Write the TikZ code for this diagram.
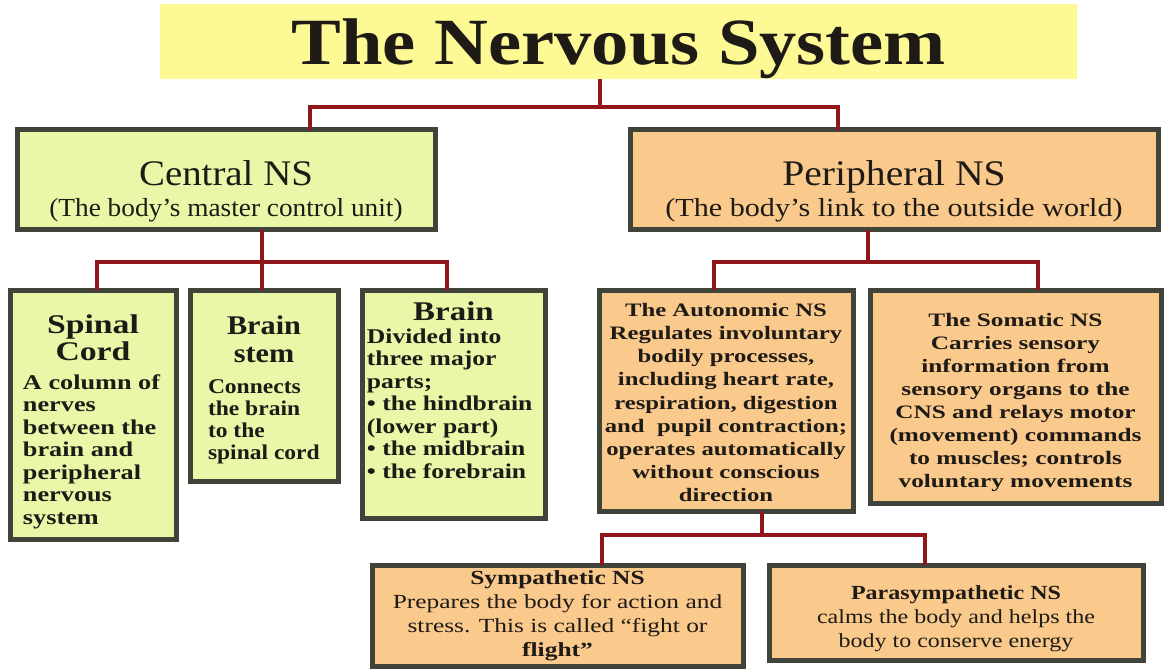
\documentclass[tikz,border=0pt]{standalone}
\usepackage{fontspec}
\setmainfont{Liberation Serif}
\usetikzlibrary{shadows}
\definecolor{gfill}{RGB}{232,247,168}
\definecolor{ofill}{RGB}{250,201,140}
\definecolor{bord}{RGB}{64,67,58}
\definecolor{linkc}{RGB}{145,22,26}
\definecolor{ttl}{RGB}{253,250,150}
\definecolor{ink}{RGB}{30,26,22}
\newcommand{\fs}[2]{\fontsize{#1}{#2}\selectfont}
\newcommand{\boxtext}[3]{\scalebox{#1}[1]{\begin{minipage}{#2}#3\end{minipage}}}
\begin{document}
\begin{tikzpicture}[x=1pt,y=-1pt,
  boxbase/.style={draw=bord, line width=5pt, inner sep=0pt, outer sep=0pt,
    anchor=north west, text=ink,
    drop shadow={shadow xshift=1.5pt,shadow yshift=-1.5pt,fill=bord!50!black,opacity=1}},
  gbox/.style={boxbase, fill=gfill},
  obox/.style={boxbase, fill=ofill},
  link/.style={draw=linkc, line width=4pt},
]
\useasboundingbox[fill=white] (0,0) rectangle (1165,671);

% title
\node[fill=ttl, anchor=north west, minimum width=917pt, minimum height=75pt, inner sep=0pt, text=ink, text depth=0pt] (title) at (160,4)
  {\scalebox{1.13}[1]{\fs{66}{70}\bfseries The Nervous System}};

% level 1
\node[gbox, minimum width=418pt, minimum height=100pt] (cns) at (17,130)
  {\begin{minipage}{410pt}\vspace*{22pt}\centering\fs{26}{31}\scalebox{1.08}[1]{\fs{36}{40}Central NS}\\\scalebox{1.05}[1]{(The body’s master control unit)}\par\end{minipage}};
\node[obox, minimum width=528pt, minimum height=100pt] (pns) at (630,130)
  {\begin{minipage}{515pt}\vspace*{22pt}\centering\fs{26}{31}\scalebox{1.1}[1]{\fs{36}{40}Peripheral NS}\\\scalebox{1.16}[1]{(The body’s link to the outside world)}\par\end{minipage}};

% CNS children
\node[gbox, minimum width=166pt, minimum height=249pt] (spinal) at (10,290)
  {\boxtext{1.25}{112pt}{\vspace*{14pt}\centering\fs{27}{27}\bfseries Spinal\\Cord\par\vspace{6.5pt}\raggedright\fs{21}{22.5}\bfseries A column of\\nerves\\between the\\brain and\\peripheral\\nervous\\system\par}};
\node[gbox, minimum width=148pt, minimum height=191pt] (stem) at (190,290)
  {\boxtext{1.12}{100pt}{\vspace*{8pt}\centering\fs{27}{28}\bfseries Brain\\stem\par\vspace{9pt}\raggedright\fs{21}{22}\bfseries Connects\\the brain\\to the\\spinal cord\par}};
\node[gbox, minimum width=183pt, minimum height=228pt] (brain) at (362,290)
  {\boxtext{1.22}{142pt}{\centering\fs{27}{28}\bfseries Brain\par\raggedright\fs{21}{22.5}\bfseries Divided into\\three major\\parts;\\\textbullet\ the hindbrain\\(lower part)\\\textbullet\ the midbrain\\\textbullet\ the forebrain\par\vspace{28pt}}};

% PNS children
\node[obox, minimum width=254pt, minimum height=221pt] (auto) at (599,290)
  {\boxtext{1.3}{190pt}{\vspace*{4pt}\centering\fs{19}{23.2}\bfseries The Autonomic NS\\Regulates involuntary\\bodily processes,\\including heart rate,\\respiration, digestion\\and\ \ pupil contraction;\\operates automatically\\without conscious\\direction\par}};
\node[obox, minimum width=291pt, minimum height=213pt] (soma) at (870,290)
  {\boxtext{1.33}{215pt}{\vspace*{12pt}\centering\fs{19}{22.9}\bfseries The Somatic NS\\Carries sensory\\information from\\sensory organs to the\\CNS and relays motor\\(movement) commands\\to muscles; controls\\voluntary movements\par}};

% ANS children
\node[obox, minimum width=371pt, minimum height=101pt] (symp) at (372,565)
  {\boxtext{1.27}{290pt}{\centering\fs{20}{24}\textbf{Sympathetic NS}\\Prepares the body for action and\\stress. This is called “fight or\\\textbf{flight”}\par}};
\node[obox, minimum width=374pt, minimum height=95pt] (para) at (769,565)
  {\boxtext{1.2}{300pt}{\vspace*{12pt}\centering\fs{20}{24}\textbf{Parasympathetic NS}\\calms the body and helps the\\body to conserve energy\par}};

% junction coordinates
\coordinate (j0) at (600,107);
\coordinate (jL) at (310,107);
\coordinate (jR) at (838,107);
\coordinate (c0) at (262,262);
\coordinate (c1) at (97,262);
\coordinate (c3) at (447,262);
\coordinate (p0) at (868,262);
\coordinate (p1) at (714,262);
\coordinate (p2) at (1038,262);
\coordinate (a0) at (762,535);
\coordinate (a1) at (602,535);
\coordinate (a2) at (925,535);

\draw[link] (j0 |- title.south) -- (j0);
\draw[link] (jL |- cns.north) -- (jL) -- (jR) -- (jR |- pns.north);
\draw[link] (c0 |- cns.south) -- (c0);
\draw[link] (c1 |- spinal.north) -- (c1) -- (c3) -- (c3 |- brain.north);
\draw[link] (c0) -- (c0 |- stem.north);
\draw[link] (p0 |- pns.south) -- (p0);
\draw[link] (p1 |- auto.north) -- (p1) -- (p2) -- (p2 |- soma.north);
\draw[link] (a0 |- auto.south) -- (a0);
\draw[link] (a1 |- symp.north) -- (a1) -- (a2) -- (a2 |- para.north);
\end{tikzpicture}
\end{document}
